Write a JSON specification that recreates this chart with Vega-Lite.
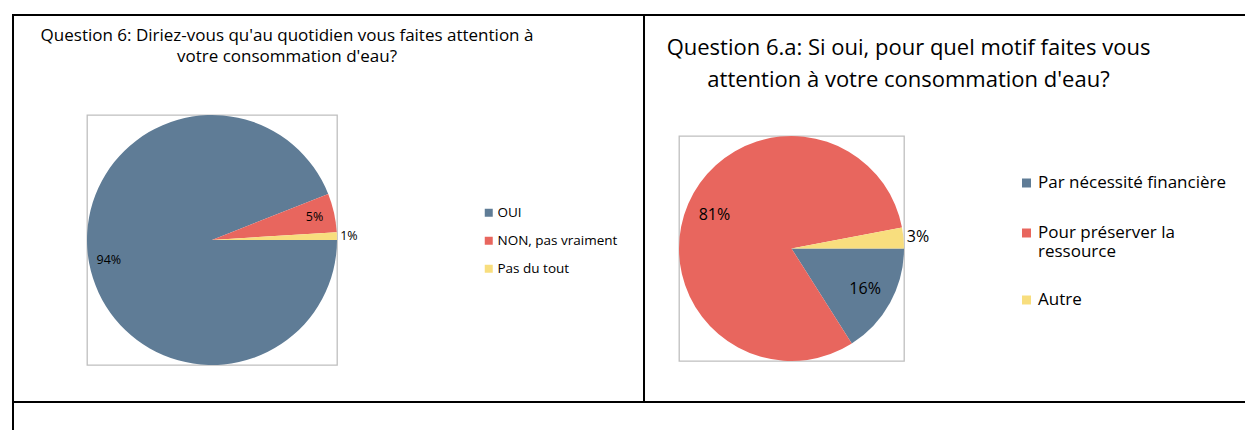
{
  "$schema": "https://vega.github.io/schema/vega-lite/v6.json",
  "padding": {"left": 12, "top": 14, "right": 0, "bottom": 0},
  "background": "white",
  "data": {"values": []},
  "config": {
    "view": {"stroke": null},
    "font": "Open Sans",
    "title": {"fontWeight": "normal", "color": "black", "font": "Open Sans"},
    "legend": {"labelColor": "black", "labelFont": "Open Sans", "symbolOpacity": 1, "symbolStrokeWidth": 0, "symbolType": "square", "padding": 0, "title": null, "labelLimit": 0}
  },
  "bounds": "flush",
  "spacing": 0,
  "resolve": {"scale": {"color": "independent", "theta": "independent"}, "legend": {"color": "independent"}},
  "vconcat": [
    {"width": 1232, "height": 0.01, "mark": "point", "view": {"stroke": "black", "strokeWidth": 2}},
    {
      "bounds": "flush",
      "spacing": 0,
      "resolve": {"scale": {"color": "independent", "theta": "independent"}, "legend": {"color": "independent"}},
      "hconcat": [
        {"width": 0.01, "height": 386, "mark": "point", "view": {"stroke": "black", "strokeWidth": 2}},
        {"width": 73, "height": 0.01, "mark": "point"},
        {
          "bounds": "flush",
          "spacing": 0,
          "resolve": {"scale": {"color": "independent", "theta": "independent"}, "legend": {"color": "independent"}},
          "vconcat": [
            {"width": 0.01, "height": 99, "mark": "point"},
            {
              "width": 250,
              "height": 250,
              "view": {"stroke": "#BFBFBF", "strokeWidth": 1.3},
              "title": {
                "text": ["Question 6: Diriez-vous qu'au quotidien vous faites attention à", "votre consommation d'eau?"],
                "fontSize": 17,
                "lineHeight": 21,
                "anchor": "middle",
                "dx": 75,
                "offset": 49
              },
              "data": {"values": [
                {"reponse": "OUI", "pct": 0.94, "ordre": 1},
                {"reponse": "NON, pas vraiment", "pct": 0.05, "ordre": 2},
                {"reponse": "Pas du tout", "pct": 0.01, "ordre": 3}
              ]},
              "encoding": {
                "theta": {"field": "pct", "type": "quantitative", "stack": true, "scale": {"range": [1.5707963, 7.8539816]}},
                "order": {"field": "ordre", "type": "quantitative"}
              },
              "layer": [
                {
                  "mark": {"type": "arc", "stroke": null},
                  "encoding": {
                    "color": {
                      "field": "reponse", "type": "nominal",
                      "sort": ["OUI", "NON, pas vraiment", "Pas du tout"],
                      "scale": {"domain": ["OUI", "NON, pas vraiment", "Pas du tout"], "range": ["#5F7C96", "#E8665E", "#F8DE7E"]},
                      "legend": {"orient": "none", "legendX": 395, "legendY": 91, "symbolSize": 64, "labelFontSize": 13.5, "rowPadding": 13, "labelOffset": 2}
                    }
                  }
                },
                {
                  "mark": {"type": "text", "radius": 105, "fontSize": 12.5, "color": "black"},
                  "encoding": {
                    "text": {"field": "pct", "type": "quantitative", "format": ".0%"},
                    "opacity": {"condition": {"test": "datum.pct > 0.035", "value": 1}, "value": 0}
                  }
                },
                {
                  "mark": {"type": "text", "radius": 137, "fontSize": 12.5, "color": "black"},
                  "encoding": {
                    "text": {"field": "pct", "type": "quantitative", "format": ".0%"},
                    "opacity": {"condition": {"test": "datum.pct < 0.035", "value": 1}, "value": 0}
                  }
                }
              ]
            }
          ]
        },
        {"width": 557, "height": 0.01, "mark": "point"},
        {"width": 0.01, "height": 386, "mark": "point", "view": {"stroke": "black", "strokeWidth": 2}},
        {"width": 34, "height": 0.01, "mark": "point"},
        {
          "bounds": "flush",
          "spacing": 0,
          "resolve": {"scale": {"color": "independent", "theta": "independent"}, "legend": {"color": "independent"}},
          "vconcat": [
            {"width": 0.01, "height": 120, "mark": "point"},
            {
              "width": 225,
              "height": 225,
              "view": {"stroke": "#BFBFBF", "strokeWidth": 1.3},
              "title": {
                "text": ["Question 6.a: Si oui, pour quel motif faites vous", "attention à votre consommation d'eau?"],
                "fontSize": 22,
                "lineHeight": 32,
                "anchor": "middle",
                "dx": 117,
                "offset": 44
              },
              "data": {"values": [
                {"motif": "Par nécessité financière", "pct": 0.16, "ordre": 1},
                {"motif": "Pour préserver la ressource", "pct": 0.81, "ordre": 2},
                {"motif": "Autre", "pct": 0.03, "ordre": 3}
              ]},
              "encoding": {
                "theta": {"field": "pct", "type": "quantitative", "stack": true, "scale": {"range": [1.5707963, 7.8539816]}},
                "order": {"field": "ordre", "type": "quantitative"}
              },
              "layer": [
                {
                  "mark": {"type": "arc", "stroke": null},
                  "encoding": {
                    "color": {
                      "field": "motif", "type": "nominal",
                      "sort": ["Par nécessité financière", "Pour préserver la ressource", "Autre"],
                      "scale": {"domain": ["Par nécessité financière", "Pour préserver la ressource", "Autre"], "range": ["#5F7C96", "#E8665E", "#F8DE7E"]},
                      "legend": {
                        "orient": "none", "legendX": 339, "legendY": 37, "symbolSize": 81, "labelFontSize": 17, "rowPadding": 30, "labelOffset": 3, "clipHeight": 20,
                        "labelExpr": "datum.label == 'Pour préserver la ressource' ? ['Pour préserver la', 'ressource'] : datum.label",
                        "encode": {"labels": {"update": {"lineHeight": {"value": 22}}}}
                      }
                    }
                  }
                },
                {
                  "mark": {"type": "text", "radius": 84, "fontSize": 16, "color": "black"},
                  "encoding": {
                    "text": {"field": "pct", "type": "quantitative", "format": ".0%"},
                    "opacity": {"condition": {"test": "datum.pct > 0.035", "value": 1}, "value": 0}
                  }
                },
                {
                  "mark": {"type": "text", "radius": 127, "fontSize": 16, "color": "black"},
                  "encoding": {
                    "text": {"field": "pct", "type": "quantitative", "format": ".0%"},
                    "opacity": {"condition": {"test": "datum.pct < 0.035", "value": 1}, "value": 0}
                  }
                }
              ]
            }
          ]
        }
      ]
    },
    {"width": 0.01, "height": 386, "mark": "point"},
    {"width": 1232, "height": 0.01, "mark": "point", "view": {"stroke": "black", "strokeWidth": 2}},
    {"width": 0.01, "height": 27, "mark": "point", "view": {"stroke": "black", "strokeWidth": 2}}
  ]
}
